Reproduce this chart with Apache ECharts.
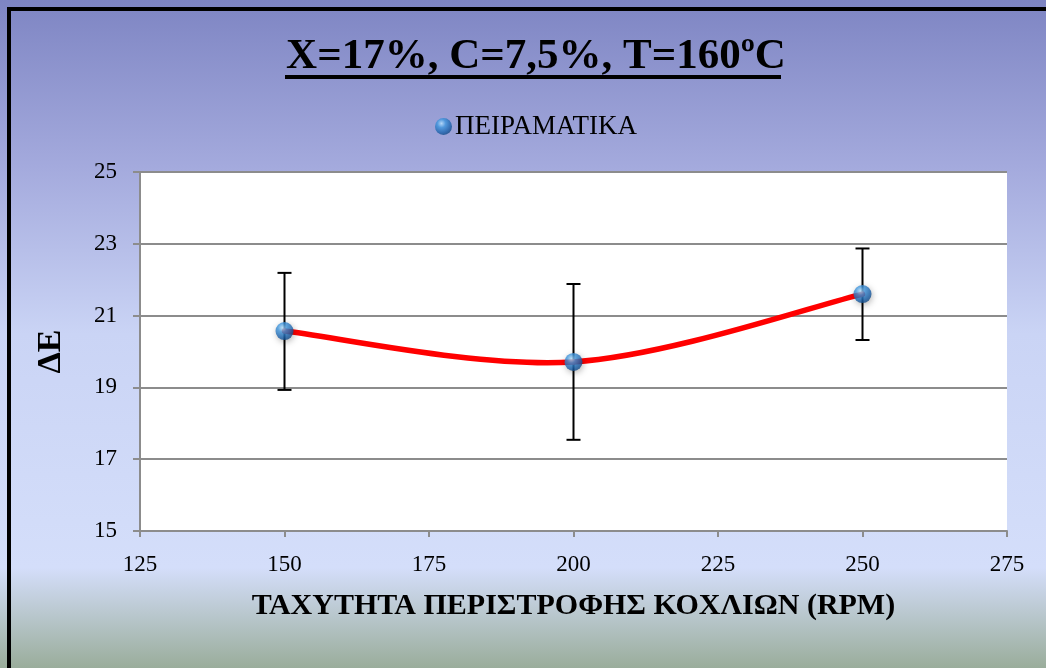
<!DOCTYPE html>
<html>
<head>
<meta charset="utf-8">
<script src="https://cdn.jsdelivr.net/npm/echarts@6/dist/echarts.min.js"></script>
<style>
  html, body { margin: 0; padding: 0; background: #fff; }
  #chart { width: 1046px; height: 668px; }
</style>
</head>
<body>
<div id="chart"></div>
<script>
// Screw rotation speed (RPM) and measured ΔE with its spread
const rpm = [150, 200, 250];
const deltaE = [20.57, 19.71, 21.60];
const errLow = [18.93, 17.54, 20.32];
const errHigh = [22.19, 21.88, 22.87];
const seriesName = 'ΠΕΙΡΑΜΑΤΙΚΑ';
const titleText = 'X=17%, C=7,5%, T=160ºC';
const xAxisTitle = 'ΤΑΧΥΤΗΤΑ ΠΕΡΙΣΤΡΟΦΗΣ ΚΟΧΛΙΩΝ (RPM)';
const yAxisTitle = 'ΔΕ';

const points = rpm.map((x, i) => [x, deltaE[i]]);
const bars = rpm.map((x, i) => [x, errLow[i], errHigh[i]]);

const serif = '"Liberation Serif", "Times New Roman", serif';

const sphere = {
  type: 'radial', x: 0.38, y: 0.32, r: 0.7,
  colorStops: [
    { offset: 0, color: '#b9e2ff' },
    { offset: 0.35, color: '#3f96de' },
    { offset: 0.8, color: '#1a5fa8' },
    { offset: 1, color: '#124a86' }
  ]
};

const chart = echarts.init(document.getElementById('chart'), null, { renderer: 'canvas' });

// Smoothed curve through the points: Catmull-Rom segments (tension 1/6)
function renderCurve(params, api) {
  const i = params.dataIndex;
  if (i >= points.length - 1) return null;
  const c = (k) => api.coord(points[Math.max(0, Math.min(points.length - 1, k))]);
  const p0 = c(i - 1), p1 = c(i), p2 = c(i + 1), p3 = c(i + 2);
  return {
    type: 'bezierCurve',
    shape: {
      x1: p1[0], y1: p1[1], x2: p2[0], y2: p2[1],
      cpx1: p1[0] + (p2[0] - p0[0]) / 6, cpy1: p1[1] + (p2[1] - p0[1]) / 6,
      cpx2: p2[0] - (p3[0] - p1[0]) / 6, cpy2: p2[1] - (p3[1] - p1[1]) / 6
    },
    style: { stroke: '#ff0000', lineWidth: 5.5, fill: null, lineCap: 'round' }
  };
}

function renderErr(params, api) {
  const x = api.value(0);
  const lo = api.coord([x, api.value(1)]);
  const hi = api.coord([x, api.value(2)]);
  const cap = 7;
  const st = { stroke: '#000', lineWidth: 2 };
  return {
    type: 'group',
    children: [
      { type: 'line', shape: { x1: lo[0], y1: lo[1], x2: hi[0], y2: hi[1] }, style: st },
      { type: 'line', shape: { x1: lo[0] - cap, y1: lo[1], x2: lo[0] + cap, y2: lo[1] }, style: st },
      { type: 'line', shape: { x1: hi[0] - cap, y1: hi[1], x2: hi[0] + cap, y2: hi[1] }, style: st }
    ]
  };
}

chart.setOption({
  backgroundColor: {
    type: 'linear', x: 0, y: 0, x2: 0, y2: 1,
    colorStops: [
      { offset: 0, color: '#7e85c3' },
      { offset: 0.25, color: '#a4aadd' },
      { offset: 0.5, color: '#cad4f5' },
      { offset: 0.85, color: '#d4defa' },
      { offset: 1, color: '#9aad9b' }
    ]
  },
  animation: false,
  graphic: [
    { type: 'rect', shape: { x: 7, y: 7, width: 4, height: 661 }, style: { fill: '#000' }, z: 100 },
    { type: 'rect', shape: { x: 7, y: 7, width: 1039, height: 4 }, style: { fill: '#000' }, z: 100 },
    // title underline
    { type: 'rect', shape: { x: 285, y: 75, width: 496, height: 4 }, style: { fill: '#000' }, z: 100 }
  ],
  title: {
    text: titleText,
    left: 531, top: 30, textAlign: 'center',
    textStyle: { fontFamily: serif, fontWeight: 'bold', fontSize: 43, color: '#000' }
  },
  legend: {
    data: [{ name: seriesName, icon: 'circle' }],
    top: 108, left: 430,
    itemWidth: 17, itemHeight: 17, itemGap: 2,
    textStyle: { fontFamily: serif, fontSize: 27, color: '#000', padding: [3, 0, 0, -2] }
  },
  grid: { left: 140, right: 39, top: 172, bottom: 137, backgroundColor: '#fff', show: true, borderWidth: 0 },
  xAxis: {
    type: 'value', min: 125, max: 275, interval: 25,
    name: xAxisTitle, nameLocation: 'middle', nameGap: 60,
    nameTextStyle: { fontFamily: serif, fontWeight: 'bold', fontSize: 30, color: '#000' },
    axisLine: { show: true, lineStyle: { color: '#8c8c8c', width: 2 } },
    axisTick: { show: true, length: 6, lineStyle: { color: '#8c8c8c', width: 2 } },
    axisLabel: { fontFamily: serif, fontSize: 23, color: '#000', margin: 22 },
    splitLine: { show: false }
  },
  yAxis: {
    type: 'value', min: 15, max: 25, interval: 2,
    name: yAxisTitle, nameLocation: 'middle', nameGap: 72, nameRotate: 90,
    nameTextStyle: { fontFamily: serif, fontWeight: 'bold', fontSize: 34, color: '#000' },
    axisLine: { show: true, lineStyle: { color: '#8c8c8c', width: 2 } },
    axisTick: { show: true, length: 7, lineStyle: { color: '#8c8c8c', width: 2 } },
    axisLabel: { fontFamily: serif, fontSize: 23, color: '#000', margin: 23 },
    splitLine: { show: true, lineStyle: { color: '#8c8c8c', width: 2 } }
  },
  series: [
    { type: 'custom', name: 'err', data: bars, z: 2, silent: true, renderItem: renderErr },
    { type: 'custom', name: 'curve', data: points, z: 3, silent: true, renderItem: renderCurve },
    {
      type: 'scatter',
      name: seriesName,
      data: points,
      z: 4,
      symbol: 'circle',
      symbolSize: 18,
      itemStyle: {
        color: sphere,
        shadowColor: 'rgba(0,0,0,0.35)', shadowBlur: 6, shadowOffsetX: 1, shadowOffsetY: 2
      }
    }
  ]
});
</script>
</body>
</html>
